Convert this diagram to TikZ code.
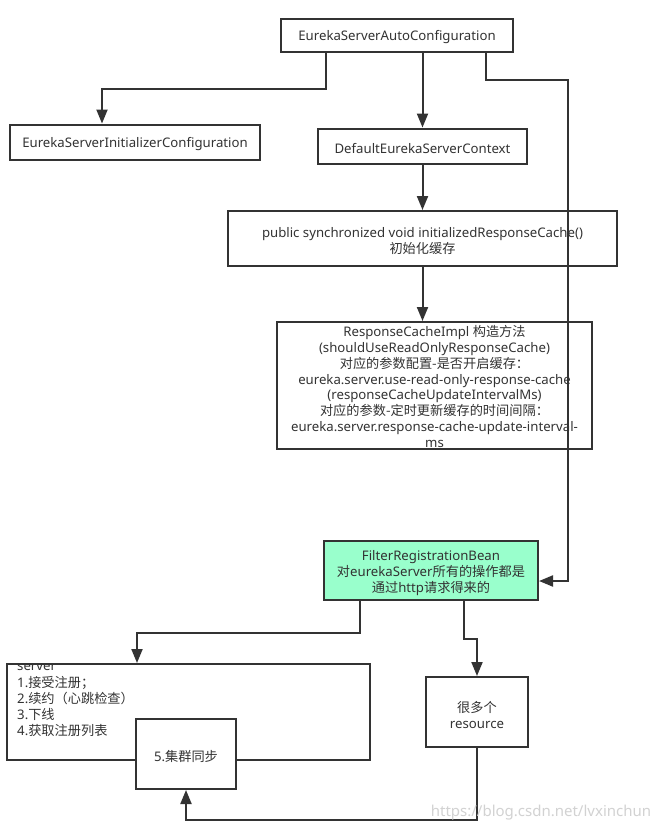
\documentclass[tikz,border=0pt]{standalone}
\usepackage{fontspec}
\setmainfont{Noto Sans}
\newfontfamily\cjk{Noto Sans CJK SC}
\usetikzlibrary{arrows.meta}
\definecolor{ln}{HTML}{333333}
\definecolor{txt}{HTML}{333333}
\definecolor{mint}{HTML}{99FFCC}
\begin{document}
\begin{tikzpicture}[x=1pt,y=-1pt,
  box/.style={draw=ln,line width=2pt,fill=white,inner sep=0pt},
  tx/.style={text=txt,font=\fontsize{13.2}{16}\selectfont,align=center,inner sep=0pt,yshift=-2.5pt},
  conn/.style={draw=ln,line width=2pt,-{Triangle[length=14pt,width=11pt]}},
  lbl/.style={text=txt,font=\fontsize{13.2}{16}\selectfont,inner sep=0pt,anchor=base west}
]
\useasboundingbox[fill=white] (0,0) rectangle (653,831);

\node[box,minimum width=232pt,minimum height=33pt,label={[tx]center:{EurekaServerAutoConfiguration}}] (auto) at (397,35) {};
\node[box,minimum width=250pt,minimum height=35pt,label={[tx]center:{EurekaServerInitializerConfiguration}}] (init) at (135,142) {};
\node[box,minimum width=209pt,minimum height=35pt,label={[tx]center:{DefaultEurekaServerContext}}] (def) at (422.5,146) {};
\node[box,minimum width=389pt,minimum height=55pt,label={[tx]center:{public synchronized void initializedResponseCache()\\{\cjk 初始化缓存}}}] (irc) at (422.5,238.5) {};
\node[box,minimum width=315pt,minimum height=127pt,label={[tx,yshift=1.5pt,font=\fontsize{13.2}{15.8}\selectfont]center:{ResponseCacheImpl {\cjk 构造方法}\\(shouldUseReadOnlyResponseCache)\\{\cjk 对应的参数配置-是否开启缓存：}\\eureka.server.use-read-only-response-cache\\(responseCacheUpdateIntervalMs)\\{\cjk 对应的参数-定时更新缓存的时间间隔：}\\eureka.server.response-cache-update-interval-\\ms}}] (rci) at (434.5,385.5) {};
\node[box,fill=mint,minimum width=214pt,minimum height=59pt,label={[tx]center:{FilterRegistrationBean\\{\cjk 对}eurekaServer{\cjk 所有的操作都是}\\{\cjk 通过}http{\cjk 请求得来的}}}] (filter) at (431,570.5) {};
\node[box,minimum width=102pt,minimum height=70pt,label={[tx]center:{{\cjk 很多个}\\resource}}] (res) at (477,712) {};
\node[box,minimum width=363pt,minimum height=96pt] (server) at (188.5,712) {};
\begin{scope}
  \clip (0,663) rectangle (400,800);
  \node[lbl] (s0) at (17,670.5) {server};
\end{scope}
\node[lbl] (s1) at (17,687) {1.{\cjk 接受注册；}};
\node[lbl] (s2) at (17,703) {2.{\cjk 续约（心跳检查）}};
\node[lbl] (s3) at (17,719) {3.{\cjk 下线}};
\node[lbl] (s4) at (17,735) {4.{\cjk 获取注册列表}};
\node[box,minimum width=100pt,minimum height=70pt,label={[tx]center:{5.{\cjk 集群同步}}}] (sync) at (186,754) {};

\draw[conn] ([xshift=-71pt]auto.south) -- ++(0,36) -| ([xshift=-33pt]init.north);
\draw[conn] (auto.south -| def.north) -- (def.north);
\draw[conn] (def.south) -- (irc.north);
\draw[conn] (irc.south) -- (irc.south |- rci.north);
\draw[conn] ([xshift=89pt]auto.south) -- ++(0,27) -- ++(82,0) |- ([yshift=-10.5pt]filter.east);
\draw[conn] ([xshift=33pt]filter.south) -- ++(0,38) -| (res.north);
\draw[conn] ([xshift=-71pt]filter.south) -- ++(0,32) -| ([xshift=-51.5pt]server.north);
\draw[conn] (res.south) -- ++(0,72) -| (sync.south);

\node[text=gray!35,font=\fontsize{15}{18}\selectfont,inner sep=0pt] (wm) at (541,813) {https://blog.csdn.net/lvxinchun};
\end{tikzpicture}
\end{document}
